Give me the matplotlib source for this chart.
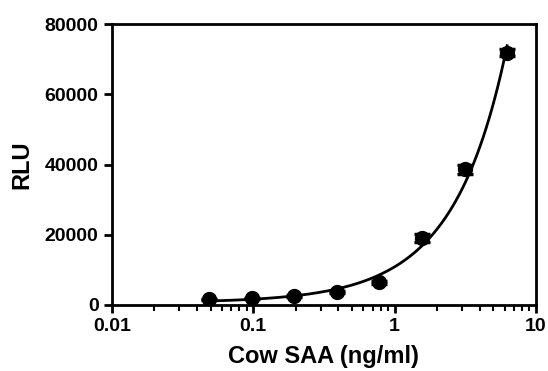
import matplotlib.pyplot as plt
import numpy as np

plt.rcParams['font.family'] = ['Liberation Sans', 'DejaVu Sans']
plt.rcParams['font.weight'] = 'bold'

# standard curve data
conc = [0.049, 0.098, 0.195, 0.39, 0.78, 1.5625, 3.125, 6.25]
rlu_mean = [1600, 1900, 2500, 3600, 6400, 19000, 38700, 71800]
rlu_sd = [150, 150, 200, 250, 300, 1100, 1300, 1000]

fig, ax = plt.subplots(figsize=(5.48, 3.71), dpi=100)
fig.subplots_adjust(left=0.204, right=0.978, bottom=0.178, top=0.935)

# fitted curve
coef = np.polyfit(conc, rlu_mean, 2, w=1 / np.sqrt(rlu_mean))
xs = np.logspace(np.log10(conc[0]), np.log10(conc[-1]), 200)
ax.plot(xs, np.polyval(coef, xs), color='black', lw=2, zorder=2)

ax.errorbar(conc, rlu_mean, yerr=rlu_sd, fmt='o', color='black', ms=10,
            capsize=6, capthick=2.5, elinewidth=2, zorder=3)

ax.set_xscale('log')
ax.set_xlim(0.01, 10)
ax.set_ylim(0, 80000)
ax.set_yticks([0, 20000, 40000, 60000, 80000])
ax.set_xticks([0.01, 0.1, 1, 10])
ax.set_xticklabels(['0.01', '0.1', '1', '10'])

for s in ax.spines.values():
    s.set_linewidth(2)
ax.tick_params(which='major', width=2, length=6, labelsize=14, direction='out')
ax.tick_params(which='minor', width=1.5, length=4, direction='out')

ax.set_xlabel('Cow SAA (ng/ml)', fontsize=17, fontweight='bold', labelpad=7)
ax.set_ylabel('RLU', fontsize=17, fontweight='bold', labelpad=8)

fig.savefig('out.png', dpi=100)
